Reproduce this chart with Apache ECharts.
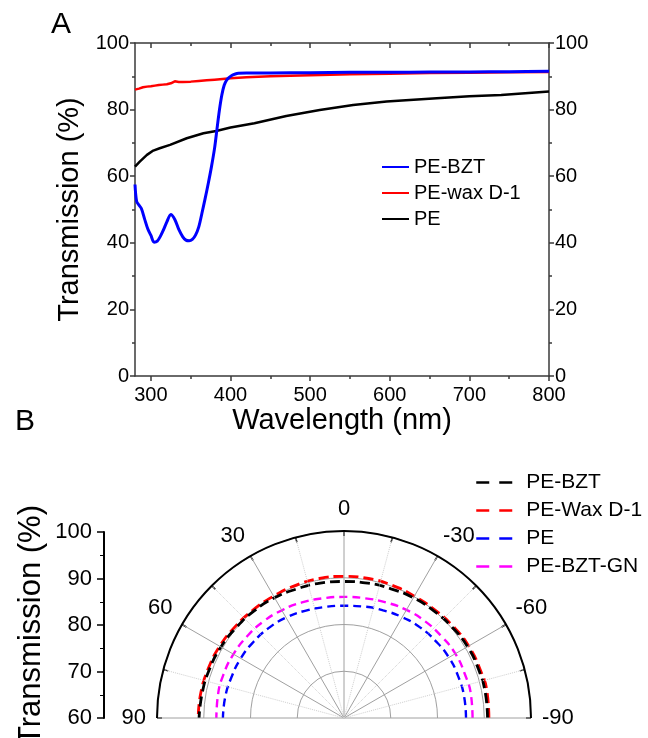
<!DOCTYPE html>
<html><head><meta charset="utf-8">
<script src="https://cdn.jsdelivr.net/npm/echarts@6/dist/echarts.min.js"></script>
<style>html,body{margin:0;padding:0;background:#fff}#c{width:648px;height:738px}</style>
</head><body><div id="c"></div>
<script>
const FONT = 'Liberation Sans, Arial, sans-serif';

// ---------- Panel A data ----------
const wlBZT = [280,282,285,288,292,296,300,304,308,312,316,320,325,330,335,340,344,348,352,356,360,364,368,372,376,380,383,386,389,392,395,398,402,406,410,420,450,500,550,600,650,700,750,800];
const tBZT  = [57.5,52.5,51.3,50.3,47.2,44.2,42.2,40.2,40.5,42.0,44.0,46.3,48.5,47.0,44.0,41.8,40.8,40.6,41.0,42.3,44.7,48.8,53.2,57.8,62.8,68.5,74.2,79.8,84.3,87.3,88.8,89.6,90.3,90.7,90.9,91.0,91.0,91.1,91.2,91.2,91.3,91.3,91.4,91.5];

const wlWax = [280,285,290,295,300,305,310,315,320,325,330,335,340,350,360,370,380,390,400,420,450,500,550,600,650,700,750,800];
const tWax  = [86.0,86.3,86.7,86.9,87.0,87.2,87.4,87.5,87.6,87.9,88.5,88.3,88.3,88.4,88.6,88.8,89.0,89.2,89.4,89.7,90.0,90.3,90.6,90.8,91.0,91.1,91.2,91.3];

const wlPE  = [280,286,295,303,311,324,345,366,382,400,430,470,512,554,596,659,700,740,770,800];
const tPE   = [62.9,64.4,66.4,67.7,68.4,69.4,71.4,72.9,73.6,74.6,75.9,78.1,79.9,81.4,82.4,83.4,84.0,84.4,84.9,85.4];

const xTicks = [300,400,500,600,700,800];
const xMinorTicks = [350,450,550,650,750];

// ---------- Panel B data ----------
const angles = [-90,-80,-70,-60,-50,-40,-30,-20,-10,0,10,20,30,40,50,60,70,80,90];
const pBZT   = [90.7,90.7,90.6,90.5,90.2,89.9,89.7,89.4,89.3,89.2,89.3,89.4,89.7,89.9,90.1,90.4,90.6,90.8,91.0];
const pWax   = [91.0,91.1,90.9,90.8,90.5,90.2,90.1,90.2,90.3,90.3,90.3,90.2,90.1,90.2,90.4,90.7,90.9,91.1,91.2];
const pPE    = [86.1,86.1,86.0,85.9,85.6,85.3,84.9,84.5,84.2,84.0,84.1,84.4,84.8,85.1,85.3,85.5,85.6,85.8,85.9];
const pGN    = [87.5,87.6,87.5,87.5,87.2,87.0,86.7,86.3,86.0,85.9,86.0,86.3,86.6,86.9,87.1,87.3,87.4,87.4,87.3];

const pair = (xs, ys) => xs.map((x, i) => [x, ys[i]]);
const polarPair = rs => rs.map((r, i) => [r, angles[i]]);

const AX = '#3a3a3a';
const txt = (s) => Object.assign({fontFamily: FONT, color: '#000'}, s);
const hiddenSymbol = {color: 'rgba(0,0,0,0)', borderColor: 'rgba(0,0,0,0)', borderWidth: 0, opacity: 0};

const chart = echarts.init(document.getElementById('c'));
chart.setOption({
  animation: false,
  backgroundColor: '#fff',
  textStyle: {fontFamily: FONT},
  title: [
    {text: 'A', left: 51, top: 10, padding: 0, textStyle: txt({fontSize: 30, fontWeight: 'normal'})},
    {text: 'B', left: 15, top: 407, padding: 0, textStyle: txt({fontSize: 30, fontWeight: 'normal'})}
  ],
  grid: [
    {left: 135, top: 43, width: 414, height: 333, outerBoundsMode: 'none', containLabel: false},
    {left: 104, top: 532, width: 1, height: 186, outerBoundsMode: 'none', containLabel: false}
  ],
  xAxis: [
    {gridIndex: 0, type: 'value', min: 280, max: 800, position: 'bottom',
     name: 'Wavelength (nm)', nameLocation: 'middle', nameGap: 30,
     nameTextStyle: txt({fontSize: 29}),
     axisLine: {lineStyle: {color: AX, width: 1.5}},
     axisTick: {customValues: xTicks, length: 5, lineStyle: {color: AX, width: 1.5}},
     axisLabel: {customValues: xTicks, fontSize: 20, margin: 9, color: '#000', fontFamily: FONT},
     splitLine: {show: false}},
    {gridIndex: 0, type: 'value', min: 280, max: 800, position: 'bottom',
     axisLine: {show: false},
     axisTick: {customValues: xMinorTicks, length: 3, lineStyle: {color: AX, width: 1.5}},
     axisLabel: {show: false}, splitLine: {show: false}},
    {gridIndex: 0, type: 'value', min: 280, max: 800, position: 'top',
     axisLine: {lineStyle: {color: AX, width: 1.5}},
     axisTick: {customValues: xTicks, inside: true, length: 5, lineStyle: {color: AX, width: 1.5}},
     axisLabel: {show: false}, splitLine: {show: false}},
    {gridIndex: 0, type: 'value', min: 280, max: 800, position: 'top',
     axisLine: {show: false},
     axisTick: {customValues: xMinorTicks, inside: true, length: 3, lineStyle: {color: AX, width: 1.5}},
     axisLabel: {show: false}, splitLine: {show: false}},
    {gridIndex: 1, type: 'value', show: false, min: 0, max: 1}
  ],
  yAxis: [
    {gridIndex: 0, type: 'value', min: 0, max: 100, interval: 20, position: 'left',
     name: 'Transmission (%)', nameLocation: 'middle', nameGap: 37,
     nameTextStyle: txt({fontSize: 29}),
     axisLine: {show: true, lineStyle: {color: AX, width: 1.5}},
     axisTick: {show: true, length: 5, lineStyle: {color: AX, width: 1.5}},
     minorTick: {show: true, splitNumber: 2, length: 3, lineStyle: {color: AX, width: 1.5}},
     axisLabel: {fontSize: 20, margin: 6, color: '#000', fontFamily: FONT},
     splitLine: {show: false}},
    {gridIndex: 0, type: 'value', min: 0, max: 100, interval: 20, position: 'right',
     axisLine: {show: true, lineStyle: {color: AX, width: 1.5}},
     axisTick: {show: true, length: 5, lineStyle: {color: AX, width: 1.5}},
     minorTick: {show: true, splitNumber: 2, length: 3, lineStyle: {color: AX, width: 1.5}},
     axisLabel: {fontSize: 20, margin: 6, color: '#000', fontFamily: FONT},
     splitLine: {show: false}},
    {gridIndex: 1, type: 'value', min: 60, max: 100, interval: 10, position: 'left',
     name: 'Transmission (%)', nameLocation: 'middle', nameGap: 57,
     nameTextStyle: txt({fontSize: 31}),
     axisLine: {show: true, lineStyle: {color: '#000', width: 2}},
     axisTick: {show: true, length: 7, lineStyle: {color: '#000', width: 1.5}},
     minorTick: {show: true, splitNumber: 2, length: 4, lineStyle: {color: '#000', width: 1}},
     axisLabel: {fontSize: 22, margin: 12, color: '#000', fontFamily: FONT},
     splitLine: {show: false}}
  ],
  polar: {center: [344, 718], radius: 187},
  radiusAxis: {type: 'value', min: 60, max: 100, interval: 10,
    axisLine: {show: false}, axisTick: {show: false}, axisLabel: {show: false},
    splitLine: {show: true, lineStyle: {color: '#a0a0a0', width: 1}}},
  angleAxis: {type: 'value', min: -90, max: 90, interval: 30,
    startAngle: 0, endAngle: 180, clockwise: false, z: 5,
    axisLine: {show: true, lineStyle: {color: '#000', width: 2}},
    axisTick: {show: true, inside: true, length: 5, lineStyle: {color: '#000', width: 1.5}},
    minorTick: {show: true, splitNumber: 2, length: 5, lineStyle: {color: '#000', width: 1.5}},
    splitLine: {show: true, lineStyle: {color: '#a0a0a0', width: 1}},
    minorSplitLine: {show: true, lineStyle: {color: '#cfcfcf', width: 1, type: 'dotted'}},
    axisLabel: {fontSize: 22, margin: 11, color: '#000', fontFamily: FONT}},
  legend: [
    {data: ['PE-BZT', 'PE-wax D-1', 'PE'], orient: 'vertical', left: 381, top: 157, padding: 0,
     itemWidth: 27, itemHeight: 14, itemGap: 6, itemStyle: hiddenSymbol,
     textStyle: txt({fontSize: 20})},
    {data: ['B:PE-BZT', 'B:PE-Wax D-1', 'B:PE', 'B:PE-BZT-GN'], orient: 'vertical',
     left: 475, top: 472, padding: 0, itemWidth: 37, itemHeight: 14, itemGap: 7,
     formatter: n => n.slice(2), itemStyle: hiddenSymbol,
     lineStyle: {type: [13, 10], width: 2.5},
     textStyle: txt({fontSize: 21, padding: [0, 0, 0, 8]})}
  ],
  series: [
    {name: 'PE', type: 'line', xAxisIndex: 0, yAxisIndex: 0, data: pair(wlPE, tPE),
     symbol: 'none', lineStyle: {color: '#000', width: 2.5}, itemStyle: {color: '#000'}},
    {name: 'PE-wax D-1', type: 'line', xAxisIndex: 0, yAxisIndex: 0, data: pair(wlWax, tWax),
     symbol: 'none', lineStyle: {color: '#ff0000', width: 2.5}, itemStyle: {color: '#ff0000'}},
    {name: 'PE-BZT', type: 'line', xAxisIndex: 0, yAxisIndex: 0, data: pair(wlBZT, tBZT),
     symbol: 'none', smooth: 0.3, lineStyle: {color: '#0000ff', width: 3}, itemStyle: {color: '#0000ff'}},
    {name: 'B:PE-BZT', type: 'line', coordinateSystem: 'polar', data: polarPair(pBZT),
     symbol: 'none', smooth: true, z: 4, lineStyle: {color: '#000', width: 2.8, type: [10, 5]}, itemStyle: {color: '#000'}},
    {name: 'B:PE-Wax D-1', type: 'line', coordinateSystem: 'polar', data: polarPair(pWax),
     symbol: 'none', smooth: true, z: 3, lineStyle: {color: '#ff0000', width: 2.8, type: [10, 5]}, itemStyle: {color: '#ff0000'}},
    {name: 'B:PE', type: 'line', coordinateSystem: 'polar', data: polarPair(pPE),
     symbol: 'none', smooth: true, lineStyle: {color: '#0000ff', width: 2.4, type: [8, 5]}, itemStyle: {color: '#0000ff'}},
    {name: 'B:PE-BZT-GN', type: 'line', coordinateSystem: 'polar', data: polarPair(pGN),
     symbol: 'none', smooth: true, lineStyle: {color: '#ff00ff', width: 2.4, type: [8, 5]}, itemStyle: {color: '#ff00ff'}}
  ]
});
</script></body></html>
